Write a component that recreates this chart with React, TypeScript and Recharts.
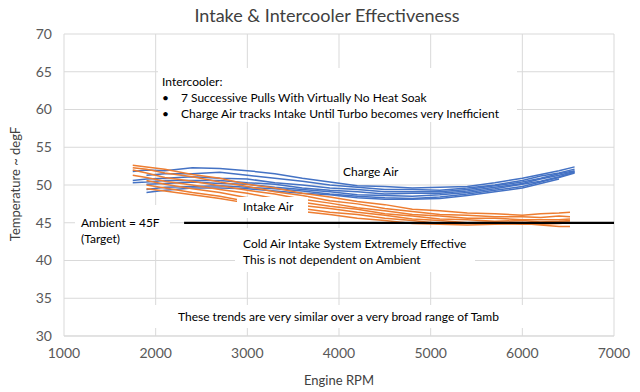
import React from "react";
import { CartesianGrid, Line, LineChart, XAxis, YAxis } from "recharts";

const X_TICKS = [1000, 2000, 3000, 4000, 5000, 6000, 7000];
const Y_TICKS = [30, 35, 40, 45, 50, 55, 60, 65, 70];

const CHARGE_RPM = [1750, 1900, 2100, 2400, 2700, 3000, 3300, 3600, 3900, 4200, 4500, 4800, 5100, 5400, 5700, 6000, 6200, 6400, 6570];
const charge1 = [51.8, 52.0, 51.9, 52.3, 52.2, 51.9, 51.5, 50.9, 50.4, 49.9, 49.8, 49.6, 49.7, 49.8, 50.3, 50.9, 51.4, 51.9, 52.4];
const charge2 = [null, 51.3, 51.5, 51.5, 51.7, 51.3, 50.9, 50.5, 50.0, 49.7, 49.4, 49.4, 49.3, 49.6, 50.0, 50.6, 51.2, 51.6, 52.1];
const charge3 = [50.6, 50.8, 50.9, 51.1, 50.9, 50.8, 50.3, 50.0, 49.6, 49.4, 49.1, 49.1, 49.1, 49.4, 49.9, 50.4, 50.9, 51.5, 51.9];
const charge4 = [50.3, 50.4, 50.6, 50.6, 50.6, 50.3, 50.1, 49.6, 49.3, 49.1, 48.8, 48.9, 48.9, 49.2, 49.7, 50.2, 50.8, 51.3, 51.8];
const charge5 = [null, 50.1, 50.2, 50.4, 50.2, 50.1, 49.7, 49.4, 49.1, 48.7, 48.6, 48.5, 48.7, 49.0, 49.5, 50.1, 50.5, 51.1, 51.7];
const charge6 = [null, 49.4, 49.7, 49.8, 49.9, 49.7, 49.5, 49.2, 48.8, 48.5, 48.3, 48.2, 48.4, 48.8, 49.3, 49.8, 50.4, 51.0, 51.6];
const charge7 = [null, 49.0, 49.3, 49.6, 49.6, 49.5, 49.2, 48.9, 48.7, 48.3, 48.1, 48.1, 48.2, 48.6, 49.1, 49.6, 50.2, 50.8, null];

const INTAKE_RPM = [1750, 1900, 2100, 2400, 2700, 3000, 3300, 3600, 3900, 4200, 4500, 4800, 5100, 5400, 5700, 6000, 6200, 6400, 6520];
const intake1 = [52.6, 52.4, 52.1, 51.4, 50.9, 50.1, 49.6, 48.9, 48.4, 47.8, 47.4, 46.8, 46.6, 46.3, 46.2, 46.0, 46.2, 46.3, 46.4];
const intake2 = [52.3, 52.1, 51.6, 51.1, 50.4, 49.8, 49.1, 48.6, 47.9, 47.5, 46.9, 46.5, 46.1, 46.0, 45.8, 45.8, 45.7, 45.9, 45.8];
const intake3 = [52.0, 51.6, 51.0, 50.5, 49.9, 49.3, 48.8, 48.1, 47.6, 47.0, 46.6, 46.1, 45.9, 45.6, 45.6, 45.4, 45.4, 45.4, 45.5];
const intake4 = [51.3, 51.0, 50.5, 50.0, 49.4, 48.9, 48.2, 47.7, 47.2, 46.8, 46.2, 45.9, 45.5, 45.4, 45.2, 45.3, 45.1, 45.2, 45.3];
const intake5 = [null, 50.6, 50.1, 49.5, 49.0, 48.3, 47.8, 47.3, 46.9, 46.4, 46.0, 45.5, 45.3, 45.0, 45.1, 45.0, 45.0, 45.1, 45.1];
const intake6 = [null, 50.0, 49.6, 49.0, 48.5, 47.8, 47.3, 46.9, 46.4, 46.1, 45.6, 45.3, 44.9, 44.9, 44.9, 44.8, 44.8, 44.9, 45.0];
const intake7 = [null, 49.5, 49.2, 48.7, 48.2, 47.6, 47.1, 46.5, 46.1, 45.6, 45.3, 44.9, 44.8, 44.7, 44.8, 44.9, 44.7, 44.5, 44.5];

const AMBIENT_RPM = [2310, 7000];
const AMBIENT_T = [45, 45];

const chargeRuns = [charge1, charge2, charge3, charge4, charge5, charge6, charge7];
const intakeRuns = [intake1, intake2, intake3, intake4, intake5, intake6, intake7];

const toPoints = (rpm: number[], vals: (number | null)[]) =>
  rpm.map((r, i) => ({ rpm: r, t: vals[i] })).filter((p) => p.t !== null);

const FONT = "Lato, 'Open Sans', sans-serif";

const Note = ({ x, y, w, h, children, style }: any) => (
  <div
    style={{
      position: "absolute",
      left: x,
      top: y,
      width: w,
      height: h,
      background: "#fff",
      fontFamily: FONT,
      fontSize: 12,
      color: "#000",
      lineHeight: "16px",
      whiteSpace: "nowrap",
      boxSizing: "border-box",
      ...style,
    }}
  >
    {children}
  </div>
);

const App = () => {
  return (
    <div style={{ position: "absolute", left: 0, top: 0, width: 640, height: 392, background: "#fff" }}>
      <LineChart width={640} height={392} margin={{ top: 34, right: 26, left: 0, bottom: 0 }}>
        <CartesianGrid stroke="#d9d9d9" />
        <XAxis
          dataKey="rpm"
          type="number"
          domain={[1000, 7000]}
          ticks={X_TICKS}
          axisLine={{ stroke: "#d9d9d9" }}
          tickLine={false}
          tickSize={0}
          tickMargin={12}
          height={56}
          tick={{ fill: "#595959", fontSize: 14, fontFamily: FONT }}
        />
        <YAxis
          type="number"
          domain={[30, 70]}
          ticks={Y_TICKS}
          axisLine={false}
          tickLine={false}
          tickSize={0}
          tickMargin={12}
          width={64}
          tick={{ fill: "#595959", fontSize: 14, fontFamily: FONT }}
        />
        {chargeRuns.map((run, i) => (
          <Line
            key={"c" + i}
            type="linear"
            data={toPoints(CHARGE_RPM, run)}
            dataKey="t"
            stroke="#4472C4"
            strokeWidth={1.5}
            dot={false}
            isAnimationActive={false}
          />
        ))}
        {intakeRuns.map((run, i) => (
          <Line
            key={"i" + i}
            type="linear"
            data={toPoints(INTAKE_RPM, run)}
            dataKey="t"
            stroke="#ED7D31"
            strokeWidth={1.5}
            dot={false}
            isAnimationActive={false}
          />
        ))}
        <Line
          data={toPoints(AMBIENT_RPM, AMBIENT_T)}
          dataKey="t"
          stroke="#000"
          strokeWidth={2.25}
          dot={false}
          isAnimationActive={false}
        />
      </LineChart>

      <div
        style={{
          position: "absolute",
          left: 0,
          top: 4,
          width: 654,
          textAlign: "center",
          fontFamily: FONT,
          fontSize: 18,
          color: "#404040",
        }}
      >
        Intake &amp; Intercooler Effectiveness
      </div>
      <div
        style={{
          position: "absolute",
          left: 64,
          top: 372,
          width: 550,
          textAlign: "center",
          fontFamily: FONT,
          fontSize: 13,
          color: "#404040",
        }}
      >
        Engine RPM
      </div>
      <div
        style={{
          position: "absolute",
          left: 15 - 100,
          top: 185 - 9,
          width: 200,
          textAlign: "center",
          transform: "rotate(-90deg)",
          fontFamily: FONT,
          fontSize: 13,
          color: "#404040",
        }}
      >
        Temperature ~ degF
      </div>

      <Note x={158} y={68} w={359} h={54} style={{ padding: "6px 0 0 4px" }}>
        <div>Intercooler:</div>
        <div><span style={{ display: "inline-block", width: 19 }}>•</span>7 Successive Pulls With Virtually No Heat Soak</div>
        <div><span style={{ display: "inline-block", width: 19 }}>•</span>Charge Air tracks Intake Until Turbo becomes very Inefficient</div>
      </Note>
      <Note x={338} y={162} w={70} h={20} style={{ padding: "2px 0 0 5px", background: "transparent" }}>
        Charge Air
      </Note>
      <Note x={237} y={197} w={71} h={21} style={{ padding: "2px 0 0 6px" }}>
        Intake Air
      </Note>
      <Note x={75} y={205} w={95} h={45} style={{ padding: "10px 0 0 6px" }}>
        <div>Ambient = 45F</div>
        <div>(Target)</div>
      </Note>
      <Note x={235} y={228} w={240} h={44} style={{ padding: "8px 0 0 8px" }}>
        <div>Cold Air Intake System Extremely Effective</div>
        <div>This is not dependent on Ambient</div>
      </Note>
      <Note x={152} y={305} w={373} h={23} style={{ padding: "4px 0 0 26px" }}>
        These trends are very similar over a very broad range of Tamb
      </Note>
    </div>
  );
};

export default App;
